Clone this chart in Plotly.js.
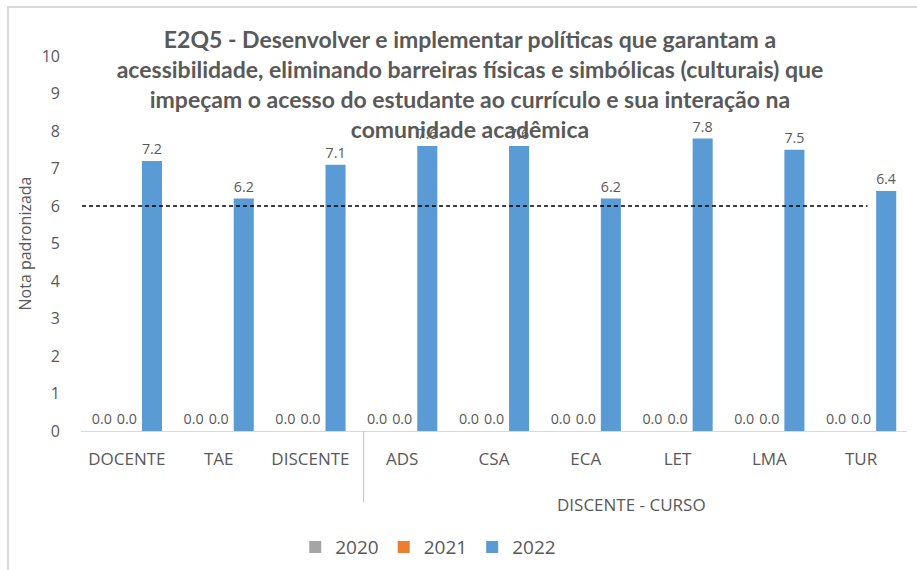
<!DOCTYPE html>
<html>
<head>
<meta charset="utf-8">
<script src="https://cdn.plot.ly/plotly-3.0.1.min.js"></script>
<style>
  html, body { margin: 0; padding: 0; background: #ffffff; }
  #chart { position: absolute; left: 0; top: 0; width: 917px; height: 570px; }
  #frame { position: absolute; left: 7px; top: 6px; width: 960px; height: 620px;
           border-left: 2px solid #d9d9d9; border-top: 2px solid #d9d9d9; pointer-events: none; }
</style>
</head>
<body>
<div id="chart"></div>
<div id="frame"></div>
<script>
const categories = ['DOCENTE', 'TAE', 'DISCENTE', 'ADS', 'CSA', 'ECA', 'LET', 'LMA', 'TUR'];
const seriesNames = ['2020', '2021', '2022'];
const v2020 = [0, 0, 0, 0, 0, 0, 0, 0, 0];
const v2021 = [0, 0, 0, 0, 0, 0, 0, 0, 0];
const v2022 = [7.2, 6.2, 7.1, 7.6, 7.6, 6.2, 7.8, 7.5, 6.4];
const targetValue = 6;
const groupLabel = 'DISCENTE - CURSO';
const firstGroupIndex = 3;
const yTicks = [0, 1, 2, 3, 4, 5, 6, 7, 8, 9, 10];
const titleText = 'E2Q5 - Desenvolver e implementar políticas que garantam a<br>' +
  'acessibilidade, eliminando barreiras físicas e simbólicas (culturais) que<br>' +
  'impeçam o acesso do estudante ao currículo e sua interação na<br>' +
  'comunidade acadêmica';

const colors = ['#a5a5a5', '#ed7d31', '#5b9bd5'];
const txtColor = '#595959';
const fontFam = '"Open Sans", "Noto Sans", sans-serif';

const values = [v2020, v2021, v2022];
const traces = values.map((vals, i) => ({
  type: 'bar',
  name: seriesNames[i],
  x: categories,
  y: vals,
  marker: { color: colors[i] },
  text: vals.map(v => v.toFixed(1)),
  textposition: 'outside',
  textfont: { family: fontFam, size: 15, color: txtColor },
  cliponaxis: false,
  hoverinfo: 'x+y+name'
}));

const lastIdx = categories.length - 1;

const layout = {
  width: 917,
  height: 570,
  paper_bgcolor: '#ffffff',
  plot_bgcolor: '#ffffff',
  margin: { l: 81, r: 10, t: 56, b: 139 },
  barmode: 'group',
  bargap: 0.18,
  bargroupgap: 0.2,
  font: { family: fontFam, color: txtColor },
  title: {
    text: titleText,
    font: { family: 'Lato, "Open Sans", sans-serif', size: 23, color: '#595959', weight: 'bold' },
    xref: 'container', x: 0.5125, xanchor: 'center',
    yref: 'container', y: 0.915, yanchor: 'top'
  },
  xaxis: {
    type: 'category',
    showline: true, linecolor: '#d9d9d9', linewidth: 1,
    showgrid: false, ticks: '', zeroline: false,
    tickfont: { family: fontFam, size: 17, color: txtColor },
    ticklabelstandoff: 13,
    range: [-0.5, lastIdx + 0.5]
  },
  yaxis: {
    range: [0, 10],
    tickvals: yTicks,
    showgrid: false, zeroline: false, showline: false, ticks: '',
    tickfont: { family: fontFam, size: 16, color: txtColor },
    ticklabelstandoff: 20,
    title: { text: 'Nota padronizada', font: { family: fontFam, size: 16, color: txtColor }, standoff: 6 }
  },
  legend: {
    orientation: 'h',
    xref: 'container', x: 0.467, xanchor: 'center',
    yref: 'container', y: 0.04, yanchor: 'middle',
    font: { family: fontFam, size: 19, color: txtColor },
    itemwidth: 30,
    traceorder: 'normal'
  },
  shapes: [
    {
      type: 'line', xref: 'x', yref: 'y',
      x0: -0.565, x1: lastIdx + 0.07, y0: targetValue, y1: targetValue,
      line: { color: '#000000', width: 1.3, dash: '4px,3px' }
    },
    {
      type: 'line', xref: 'x', yref: 'paper',
      x0: firstGroupIndex - 0.42, x1: firstGroupIndex - 0.42, y0: 0, y1: -0.19,
      line: { color: '#bfbfbf', width: 1 }
    }
  ],
  annotations: [
    {
      text: groupLabel, xref: 'x', yref: 'paper',
      x: (firstGroupIndex + lastIdx) / 2, y: -0.197,
      xanchor: 'center', yanchor: 'middle', showarrow: false,
      font: { family: fontFam, size: 17, color: txtColor }
    }
  ]
};

Plotly.newPlot('chart', traces, layout, { displayModeBar: false, staticPlot: true });
</script>
</body>
</html>
